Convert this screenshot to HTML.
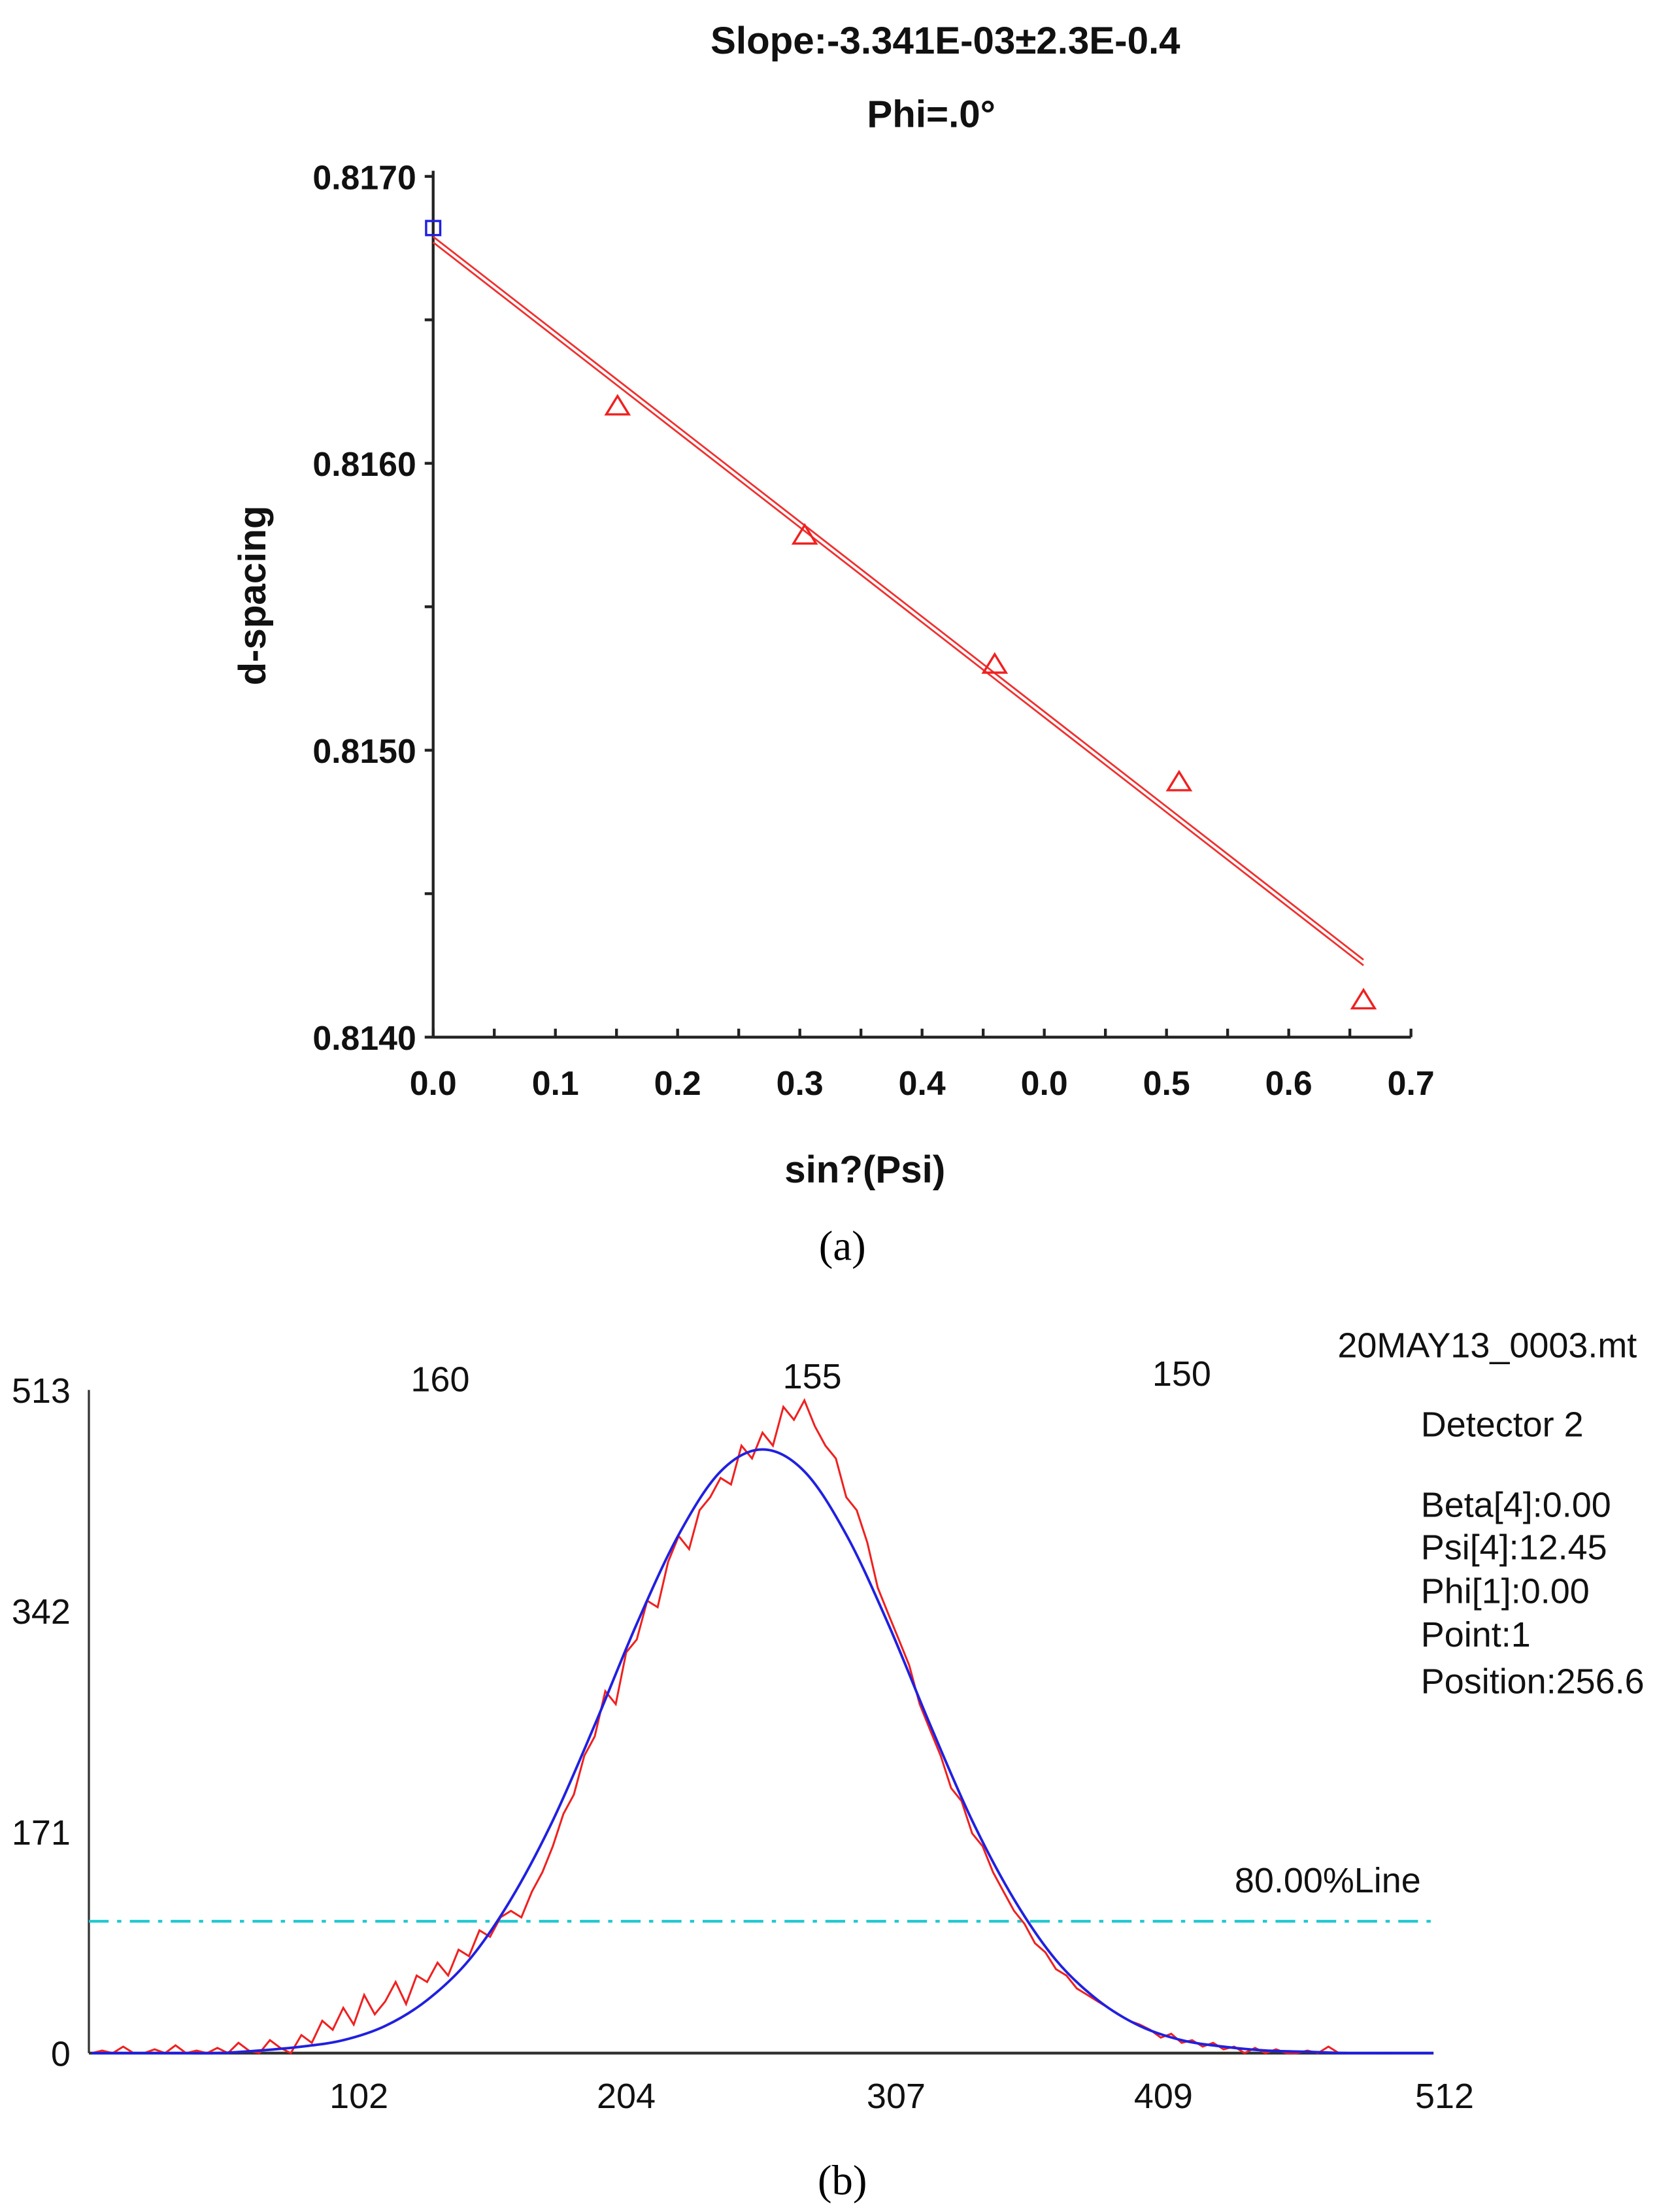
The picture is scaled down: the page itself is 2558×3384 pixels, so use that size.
<!DOCTYPE html>
<html><head><meta charset="utf-8"><style>
html,body{margin:0;padding:0;background:#fff;}
svg{display:block;font-family:"Liberation Sans",sans-serif;}
</style></head><body>
<svg id="fig" width="2558" height="3384" viewBox="0 0 1185 1567.6" preserveAspectRatio="none" xmlns="http://www.w3.org/2000/svg">
<g id="chartA"></g>
<g id="chartB"></g>
</svg>
<script>
// ---------- Chart (a) data ----------
const aPointX = [0.132, 0.266, 0.402, 0.534, 0.666];
const aPointY = [0.81620, 0.81575, 0.81530, 0.81489, 0.81413];
const aRefX = [0.0];
const aRefY = [0.81682];
const aFitX = [0.0, 0.666];
const aFitY = [0.81678, 0.81426];
const aXTickLabels = ["0.0","0.1","0.2","0.3","0.4","0.0","0.5","0.6","0.7"];
const aYTickValues = [0.8170, 0.8160, 0.8150, 0.8140];
const aYTickLabels = ["0.8170","0.8160","0.8150","0.8140"];

// ---------- Chart (b) data ----------
const bRedStep = 4;
const bRedCounts = [
0,2,0,5,0,0,3,0,6,0,2,0,4,0,8,2,
0,10,4,0,14,8,25,18,35,22,45,30,40,55,38,60,
55,70,60,80,75,95,90,105,110,105,125,140,160,185,200,230,
245,280,270,310,320,350,345,380,400,390,420,430,445,440,470,460,
480,470,500,490,505,485,470,460,430,420,395,360,340,320,300,270,
250,230,205,195,170,160,140,125,110,100,85,78,65,60,50,45,
40,35,30,25,22,18,12,15,8,10,5,8,3,5,0,4,
0,3,0,0,2,0,5,0,0,0,0,0,0,0,0,0,
0];
const bBlueStep = 16;
const bBlueCounts = [0,0,0,0,2,5,10,21,41,72,119,180,254,332,401,450,467,450,401,332,254,180,119,72,41,21,10,5,2,1,0,0,0];
const bXTickValues = [102,204,307,409,512];
const bYTickValues = [0,171,342,513];
const bTopTickLabels = ["160","155","150"];
const bTopTickPos = [133,275,416];
const bThresholdLevel = 102;

const NS="http://www.w3.org/2000/svg";
function mk(parent,tag,attrs,text){const e=document.createElementNS(NS,tag);for(const k in attrs)e.setAttribute(k,attrs[k]);if(text!==undefined)e.textContent=text;parent.appendChild(e);return e;}

// ---------- Chart (a) ----------
(function(){
const g=document.getElementById('chartA');
const X0=307,X1=1000,Y0=735,Y1=125;
const xs=v=>X0+(v/0.7)*(X1-X0);
const ys=v=>Y0-(v-0.8140)/0.0030*(Y0-Y1);
let t;
t=mk(g,'text',{x:670,y:38,'text-anchor':'middle','font-size':27,'font-weight':'bold',fill:'#111'},'Slope:-3.341E-03\u00B12.3E-0.4');


t=mk(g,'text',{x:660,y:90,'text-anchor':'middle','font-size':27,'font-weight':'bold',fill:'#111'},'Phi=.0\u00B0');


let ax=mk(g,'line',{x1:X0,y1:Y1-4,x2:X0,y2:Y0,stroke:'#222','stroke-width':2});


ax=mk(g,'line',{x1:X0,y1:Y0,x2:X1,y2:Y0,stroke:'#222','stroke-width':2});


for(let i=0;i<=6;i++){const v=0.8140+i*0.0005;const y=ys(v);const tk=mk(g,'line',{x1:X0-6,y1:y,x2:X0,y2:y,stroke:'#222','stroke-width':2});

}
aYTickValues.forEach((v,i)=>{const e=mk(g,'text',{x:X0-12,y:ys(v)+9,'text-anchor':'end','font-size':24,'font-weight':'bold',fill:'#111'},aYTickLabels[i]);

});
for(let i=0;i<=16;i++){const x=X0+i*(X1-X0)/16;const tk=mk(g,'line',{x1:x,y1:Y0-6,x2:x,y2:Y0,stroke:'#222','stroke-width':2});

}
aXTickLabels.forEach((s,i)=>{const x=X0+i*(X1-X0)/(aXTickLabels.length-1);const e=mk(g,'text',{x:x,y:776,'text-anchor':'middle','font-size':24,'font-weight':'bold',fill:'#111'},s);

});
t=mk(g,'text',{x:613,y:838,'text-anchor':'middle','font-size':27,'font-weight':'bold',fill:'#111'},'sin?(Psi)');


t=mk(g,'text',{x:0,y:0,'text-anchor':'middle','font-size':27,'font-weight':'bold',fill:'#111',transform:'translate(188,422) rotate(-90)'},'d-spacing');


[-2,2].forEach(o=>{const l=mk(g,'line',{x1:xs(aFitX[0]),y1:ys(aFitY[0])+o,x2:xs(aFitX[1]),y2:ys(aFitY[1])+o,stroke:'#f03030','stroke-width':1.3});

});
aRefX.forEach((v,i)=>{const cx=xs(v),cy=ys(aRefY[i]);const r=mk(g,'rect',{x:cx-5,y:cy-5,width:10,height:10,fill:'none',stroke:'#2020e0','stroke-width':1.6});

});
aPointX.forEach((v,i)=>{const cx=xs(v),cy=ys(aPointY[i]);const p=mk(g,'polygon',{points:`${cx},${cy-7} ${cx-8},${cy+6} ${cx+8},${cy+6}`,fill:'none',stroke:'#f02020','stroke-width':1.6});

});
t=mk(g,'text',{x:597,y:893,'text-anchor':'middle','font-size':30,fill:'#000','font-family':'Liberation Serif, serif'},'(a)');


})();

// ---------- Chart (b) ----------
(function(){
const g=document.getElementById('chartB');
const X0=65,XS=1.857,Y0=1455,YS=0.916;
const xs=v=>X0+v*XS;
const ys=v=>Y0-v*YS;
let ax=mk(g,'line',{x1:63,y1:985,x2:63,y2:Y0,stroke:'#333','stroke-width':1.5});


ax=mk(g,'line',{x1:63,y1:Y0,x2:1016,y2:Y0,stroke:'#333','stroke-width':2});


bYTickValues.forEach(v=>{const e=mk(g,'text',{x:50,y:ys(v)+9,'text-anchor':'end','font-size':25,fill:'#111'},String(v));

});
bXTickValues.forEach(v=>{const e=mk(g,'text',{x:xs(v)+(v===512?8:0),y:1494,'text-anchor':'middle','font-size':25,fill:'#111'},String(v));

});
bTopTickLabels.forEach((s,i)=>{const e=mk(g,'text',{x:xs(bTopTickPos[i]),y:986-i*2,'text-anchor':'middle','font-size':25,fill:'#111'},s);

});
const ty=ys(bThresholdLevel);
let l=mk(g,'line',{x1:63,y1:ty,x2:1016,y2:ty,stroke:'#20c8d0','stroke-width':2,'stroke-dasharray':'14 6 3 6'});


let t=mk(g,'text',{x:875,y:1341,'font-size':25,fill:'#111'},'80.00%Line');


let d='';bRedCounts.forEach((v,i)=>{d+=(i?'L':'M')+xs(i*bRedStep).toFixed(1)+','+ys(v).toFixed(1);});
let p=mk(g,'path',{d:d,fill:'none',stroke:'#f02020','stroke-width':1.4});


const pts=bBlueCounts.map((v,i)=>[xs(i*bBlueStep),ys(v)]);
let bd='M'+pts[0][0]+','+pts[0][1];
for(let i=0;i<pts.length-1;i++){const p0=pts[Math.max(i-1,0)],p1=pts[i],p2=pts[i+1],p3=pts[Math.min(i+2,pts.length-1)];
bd+=`C${p1[0]+(p2[0]-p0[0])/6},${p1[1]+(p2[1]-p0[1])/6} ${p2[0]-(p3[0]-p1[0])/6},${p2[1]-(p3[1]-p1[1])/6} ${p2[0]},${p2[1]}`;}
p=mk(g,'path',{d:bd,fill:'none',stroke:'#2020e0','stroke-width':1.8});


const info=[["20MAY13_0003.mt",948,962],["Detector 2",1007,1018],["Beta[4]:0.00",1007,1075],["Psi[4]:12.45",1007,1105],["Phi[1]:0.00",1007,1136],["Point:1",1007,1167],["Position:256.6",1007,1200]];
info.forEach(r=>{const e=mk(g,'text',{x:r[1],y:r[2],'font-size':25,fill:'#111'},r[0]);

});
t=mk(g,'text',{x:597,y:1555,'text-anchor':'middle','font-size':30,fill:'#000','font-family':'Liberation Serif, serif'},'(b)');


})();
</script>
</body></html>
